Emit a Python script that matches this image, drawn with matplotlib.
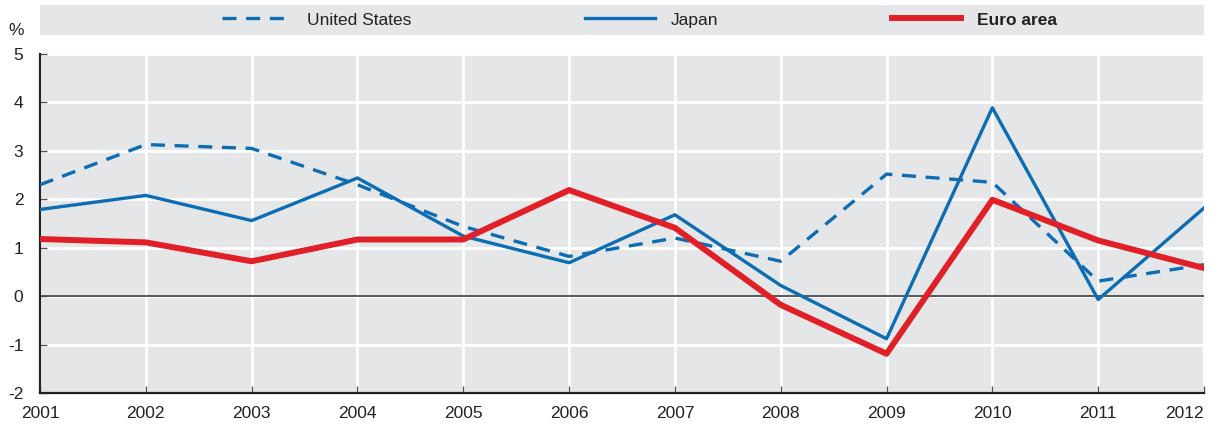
import matplotlib
matplotlib.use("Agg")
import matplotlib.pyplot as plt
from matplotlib.lines import Line2D

years = list(range(2001, 2013))
united_states = [2.30, 3.13, 3.05, 2.30, 1.44, 0.82, 1.20, 0.72, 2.52, 2.35, 0.31, 0.65]
japan = [1.79, 2.08, 1.56, 2.44, 1.24, 0.69, 1.68, 0.22, -0.88, 3.89, -0.07, 1.82]
euro_area = [1.18, 1.11, 0.72, 1.17, 1.17, 2.19, 1.41, -0.18, -1.19, 1.99, 1.15, 0.58]
y_ticks = [-2, -1, 0, 1, 2, 3, 4, 5]

FONT = ['Liberation Sans Narrow', 'Liberation Sans', 'DejaVu Sans']
plt.rcParams['font.family'] = FONT

BLUE = '#0c6cb4'
RED = '#e01f26'
BG = '#e5e6e8'
TXT = '#222222'
DASH = (4.2, 2.9)

fig = plt.figure(figsize=(12.1, 4.3), dpi=100)
ax = fig.add_axes([40/1210, 37/430, 1164/1210, 339/430])
ax.set_facecolor(BG)

ax.plot(years, united_states, color=BLUE, lw=2.4, dashes=DASH, label='United States', zorder=3)
ax.plot(years, japan, color=BLUE, lw=2.4, label='Japan', zorder=3)
ax.plot(years, euro_area, color=RED, lw=4.3, label='Euro area', zorder=4)

ax.set_xlim(2001, 2012)
ax.set_ylim(-2, 5)
ax.set_xticks(years)
ax.set_xticklabels([str(y) for y in years])
ax.get_xticklabels()[-1].set_horizontalalignment('right')
ax.set_yticks(y_ticks)
ax.set_yticklabels([str(v) for v in y_ticks])
ax.grid(True, color='white', lw=2)
ax.set_axisbelow(True)
ax.axhline(0, color='#4a4a4a', lw=1.3, zorder=2)
for s in ['top', 'right']:
    ax.spines[s].set_visible(False)
for s in ['left', 'bottom']:
    ax.spines[s].set_color('#222222')
    ax.spines[s].set_linewidth(1.6)
ax.tick_params(axis='both', direction='in', length=5, width=1, color='#555555',
               labelsize=12.5, labelcolor=TXT)
ax.tick_params(axis='y', pad=12)
ax.tick_params(axis='x', pad=9)
ax.text(-0.014, 1.07, '%', transform=ax.transAxes, fontsize=12.5, color=TXT,
        ha='right', va='center')

# legend band
lax = fig.add_axes([40/1210, 395/430, 1164/1210, 30/430])
lax.set_facecolor(BG)
lax.set_xticks([]); lax.set_yticks([])
for s in lax.spines.values():
    s.set_visible(False)
handles = [Line2D([], [], color=BLUE, lw=2.4, dashes=DASH),
           Line2D([], [], color=BLUE, lw=2.4),
           Line2D([], [], color=RED, lw=4.3)]
leg = lax.legend(handles, ['United States', 'Japan', 'Euro area'], loc='center',
                 bbox_to_anchor=(0.515, 0.5), ncol=3, frameon=False, fontsize=12.5,
                 handlelength=4.0, handletextpad=0.9, columnspacing=10.0)
for t in leg.get_texts():
    t.set_color(TXT)
leg.get_texts()[2].set_fontweight('bold')

fig.savefig('out.png', dpi=100)
